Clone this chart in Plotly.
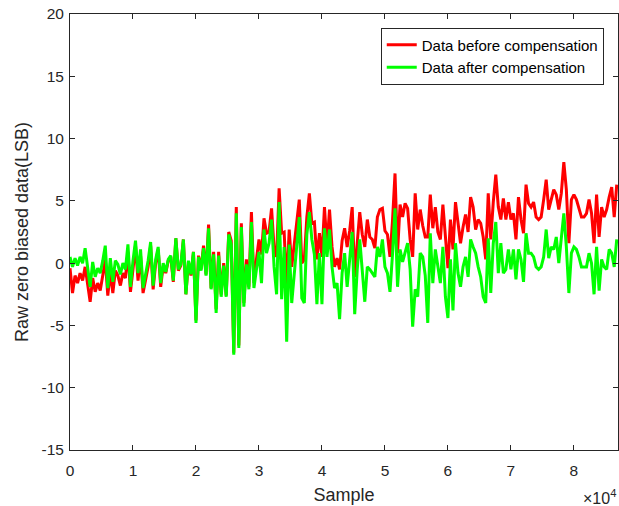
import plotly.graph_objects as go

sample_step = 400

before_comp = [
    -0.4, -2.4, -1.0, -1.6, -0.8, -1.4, -0.3, -1.8, -3.1, -1.2,
    -2.3, -1.6, -2.2, -1.0, 0.3, -2.6, -0.7, -2.4, -0.6, -1.0,
    -1.8, -0.8, -1.2, 0.9, -2.3, -0.5, 1.4, -1.4, 0.6, -2.4,
    -1.4, -0.3, 1.4, -2.1, 0.0, 1.1, -1.9, -0.2, -0.8, 0.2,
    0.5, -1.5, 2.0, -0.6, -0.2, 1.9, -2.5, 0.1, -1.0, 0.9,
    -4.6, 0.6, -0.5, 1.4, -0.9, 3.1, -2.0, 0.9, -3.7, 0.9,
    -2.5, 0.0, -2.6, 2.5, 1.8, -7.2, 4.5, -6.6, 3.2, -3.2,
    0.3, -1.9, 4.1, -1.6, 0.3, 1.9, 0.7, 3.6, 2.4, 2.5,
    4.4, 1.2, 0.5, 6.0, 2.4, 2.5, -2.0, 2.7, -0.3, 1.5,
    2.9, 5.1, 0.0, 0.3, 3.7, 5.6, 3.2, 3.3, 0.3, 2.4,
    0.5, 4.5, 1.3, 4.3, 1.3, -0.3, 0.4, -0.5, 1.8, 2.8,
    1.3, 2.6, 4.5, -1.1, 1.6, 4.1, 2.3, 1.3, 3.5, 2.1,
    1.9, 1.2, 3.7, 4.3, 4.4, 2.6, 2.3, 0.5, 3.4, 7.2,
    0.8, 4.7, 3.7, 4.8, 4.4, 1.9, 0.5, 5.6, 2.7, 4.3,
    3.0, 2.1, 2.1, 5.5, 2.8, 4.5, 2.5, 1.9, 4.7, 1.9,
    -0.4, 3.5, 1.1, 4.9, 3.2, 1.6, 2.9, 3.9, 2.5, 5.3,
    4.5, 2.7, 3.5, 3.2, 2.1, 0.3, 5.6, 1.9, 4.9, 7.1,
    4.5, 3.5, 5.2, 3.5, 4.9, 3.5, 4.0, 1.9, 5.3, 3.5,
    2.4, 6.3, 4.8, 4.5, 4.9, 3.7, 3.5, 3.7, 5.1, 6.7,
    4.3, 5.1, 5.9, 5.5, 4.3, 5.6, 8.1, 5.9, 1.6, 5.1,
    5.5, 5.1, 4.3, 3.7, 3.7, 4.0, 5.1, 4.0, 1.6, 5.5,
    2.1, 4.5, 3.7, 4.3, 5.3, 6.1, 3.7, 6.3,
]

after_comp = [
    0.5, -0.3, 0.4, -0.2, 0.5, 0.0, 1.2, -0.6, -1.9, 0.1,
    -1.1, -0.4, -0.8, 0.2, 1.4, -2.0, 0.4, -1.5, 0.2, -0.1,
    -0.9, 0.0, -0.5, 1.5, -1.9, 0.2, 1.8, -0.8, 1.1, -2.0,
    -0.9, 0.2, 1.7, -1.8, 0.3, 1.3, -1.6, 0.0, -0.7, 0.3,
    0.6, -1.4, 2.0, -0.5, -0.1, 1.9, -2.5, 0.2, -0.9, 0.9,
    -4.8, 0.5, -0.6, 1.2, -1.0, 2.8, -2.1, 0.7, -4.0, 0.6,
    -2.7, -0.2, -2.7, 2.3, 1.5, -7.35, 4.0, -6.8, 2.9, -3.5,
    -0.1, -2.1, 3.3, -2.0, -0.5, 0.9, -1.6, 2.7, 0.8, 1.6,
    3.5, -0.3, -2.5, 4.9, -2.9, 1.3, -6.3, 1.5, -3.2, -0.8,
    1.5, 3.7, -2.8, -3.2, 2.3, 4.1, 1.9, 0.7, -3.3, 0.8,
    -3.3, 2.8, 0.5, 2.7, -0.3, -2.0, -1.6, -4.5, -0.8, 0.8,
    -1.9, 0.3, 2.5, -4.1, -0.5, 1.9, -0.3, -3.1, -0.3, -0.5,
    -0.8, -1.1, 1.3, 0.5, 1.9, -0.3, -0.8, -2.3, 0.7, 4.4,
    -1.9, 1.1, 0.1, 0.8, 1.6, -0.5, -5.1, -2.1, -2.7, 0.8,
    0.5, -1.0, -4.8, 2.4, -1.6, 1.1, -0.3, -1.6, 1.3, -2.7,
    -4.4, 0.3, -3.8, 1.6, -0.8, -1.9, -0.3, 0.5, -1.1, 1.9,
    1.3, 0.8, -0.3, -1.1, -2.7, -3.2, 2.0, -2.4, 1.6, 3.3,
    -0.8, 1.6, -0.8, -0.5, 1.1, -0.5, 1.1, -1.3, 1.1, 0.3,
    -1.5, 2.4, 0.8, 0.8, 0.5, -0.3, -0.5, -0.3, 0.5, 2.7,
    0.4, 1.3, 1.1, 2.1, 0.0, 2.0, 4.0, 1.3, -2.4, 0.8,
    1.3, 1.1, 0.5, -0.3, -0.3, -0.3, 0.8, 0.0, -2.5, 1.3,
    -2.2, 0.3, -0.3, -0.5, 1.1, 0.8, -0.3, 1.9,
]

samples = [i * sample_step for i in range(len(after_comp))]

x_tick_vals = [0, 10000, 20000, 30000, 40000, 50000, 60000, 70000, 80000]
x_tick_text = ["0", "1", "2", "3", "4", "5", "6", "7", "8"]
y_tick_vals = [-15, -10, -5, 0, 5, 10, 15, 20]
y_tick_text = ["-15", "-10", "-5", "0", "5", "10", "15", "20"]

FONT = "Liberation Sans, Arial, sans-serif"
AX = "#262626"

fig = go.Figure()
fig.add_trace(go.Scatter(x=samples, y=before_comp, mode="lines",
                         name="Data before compensation",
                         line=dict(color="#FF0000", width=3)))
fig.add_trace(go.Scatter(x=samples, y=after_comp, mode="lines",
                         name="Data after compensation",
                         line=dict(color="#00FF00", width=3)))

axis_common = dict(showline=True, linecolor=AX, linewidth=1, mirror="ticks",
                   ticks="inside", ticklen=5, tickcolor=AX, tickwidth=1,
                   showgrid=False, zeroline=False,
                   tickfont=dict(family=FONT, size=15.5, color=AX))

fig.update_layout(
    width=619, height=506,
    margin=dict(l=70, r=1, t=14, b=56),
    paper_bgcolor="white", plot_bgcolor="white",
    font=dict(family=FONT, size=15, color=AX),
    showlegend=True,
    legend=dict(x=0.974, y=0.969, xanchor="right", yanchor="top",
                bgcolor="white", bordercolor=AX, borderwidth=1,
                font=dict(family=FONT, size=15, color="black"),
                tracegroupgap=0, itemwidth=30),
    xaxis=dict(range=[0, 87000], tickvals=x_tick_vals, ticktext=x_tick_text,
               ticklabelstandoff=6,
               title=dict(text="Sample", font=dict(family=FONT, size=18, color=AX),
                          standoff=10),
               **axis_common),
    yaxis=dict(range=[-15, 20], tickvals=y_tick_vals, ticktext=y_tick_text,
               ticklabelstandoff=2,
               title=dict(text="Raw zero biased data(LSB)",
                          font=dict(family=FONT, size=18, color=AX), standoff=8),
               **axis_common),
)

fig.add_annotation(text="×10<sup>4</sup>", xref="paper", yref="paper",
                   x=1.0, y=-0.108, xanchor="right", yanchor="middle",
                   showarrow=False, font=dict(family=FONT, size=16, color=AX))

fig.write_html("out.html")
